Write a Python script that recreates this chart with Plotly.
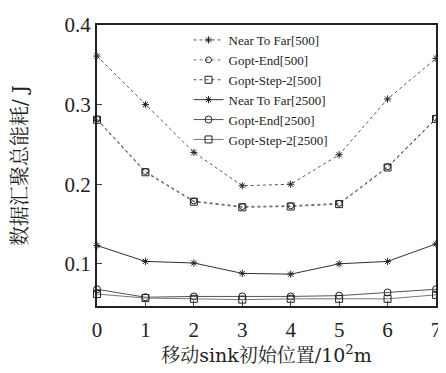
import plotly.graph_objects as go

x_pos = [0, 1, 2, 3, 4, 5, 6, 7]
near_far_500 = [0.361, 0.300, 0.240, 0.198, 0.200, 0.237, 0.307, 0.358]
gopt_end_500 = [0.282, 0.216, 0.179, 0.172, 0.173, 0.176, 0.222, 0.283]
gopt_step2_500 = [0.281, 0.215, 0.178, 0.171, 0.172, 0.175, 0.221, 0.282]
near_far_2500 = [0.123, 0.103, 0.101, 0.088, 0.087, 0.100, 0.103, 0.125]
gopt_end_2500 = [0.068, 0.058, 0.059, 0.059, 0.059, 0.060, 0.064, 0.068]
gopt_step2_2500 = [0.062, 0.057, 0.056, 0.055, 0.056, 0.056, 0.056, 0.061]
y_ticks = [0.1, 0.2, 0.3, 0.4]
names = ["Near To Far[500]", "Gopt-End[500]", "Gopt-Step-2[500]",
         "Near To Far[2500]", "Gopt-End[2500]", "Gopt-Step-2[2500]"]

serif = "Liberation Serif, Times New Roman, Noto Serif CJK SC, Noto Sans CJK SC, serif"
title_font = "DejaVu Serif, Noto Serif CJK SC, Noto Sans CJK SC, serif"

series = [
    (near_far_500, "dot", "#555555", "asterisk-open", 6),
    (gopt_end_500, "dot", "#777777", "circle-open", 6),
    (gopt_step2_500, "dot", "#555555", "square-open", 7),
    (near_far_2500, "solid", "#333333", "asterisk-open", 6),
    (gopt_end_2500, "solid", "#555555", "circle-open", 7),
    (gopt_step2_2500, "solid", "#777777", "square-open", 7),
]

fig = go.Figure()
for (vals, dash, col, sym, sz), nm in zip(series, names):
    fig.add_trace(go.Scatter(
        x=x_pos, y=vals, name=nm, mode="lines+markers",
        line=dict(color=col, width=1, dash=dash),
        marker=dict(symbol=sym, size=sz, color="#222222",
                    line=dict(width=1, color="#222222")),
        cliponaxis=False,
    ))

fig.update_layout(
    width=438, height=365,
    margin=dict(l=89, r=5, t=9, b=67),
    paper_bgcolor="white", plot_bgcolor="white",
    font=dict(family=serif, color="#222222", size=17),
    legend=dict(x=0.27, y=1.0, xanchor="left", yanchor="top",
                bgcolor="rgba(255,255,255,0)", borderwidth=0,
                font=dict(size=13, family=serif), itemwidth=30,
                tracegroupgap=0),
    showlegend=True,
)
fig.update_xaxes(
    range=[0, 7], tickvals=x_pos, ticks="inside", ticklen=5,
    showline=True, linecolor="#222222", linewidth=2, mirror=True,
    showgrid=False, zeroline=False, tickfont=dict(size=21),
    ticklabelstandoff=4, ticklabeloverflow="allow",
    title=dict(text="移动sink初始位置/10<sup>2</sup>m",
               font=dict(size=19, family=title_font), standoff=6),
)
fig.update_yaxes(
    range=[0.047, 0.4], tickvals=y_ticks, ticktext=["0.1", "0.2", "0.3", "0.4"],
    ticks="inside", ticklen=5,
    showline=True, linecolor="#222222", linewidth=2, mirror=True,
    showgrid=False, zeroline=False, tickfont=dict(size=21),
    ticklabeloverflow="allow",
    title=dict(text="数据汇聚总能耗/ J",
               font=dict(size=20, family=title_font), standoff=34),
)

fig.write_html("out.html")
